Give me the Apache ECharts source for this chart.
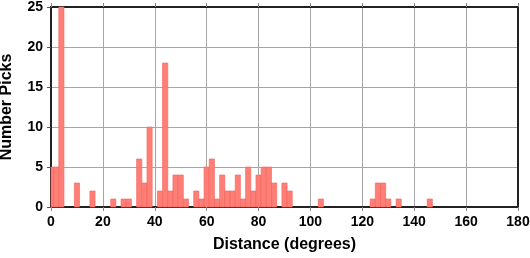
<!DOCTYPE html>
<html>
<head>
<meta charset="utf-8">
<script src="https://cdn.jsdelivr.net/npm/echarts@6/dist/echarts.min.js"></script>
<style>
  html, body { margin: 0; padding: 0; background: #fff; }
  #chart { width: 530px; height: 258px; }
</style>
</head>
<body>
<div id="chart"></div>
<script>
// Histogram bins (2-degree bins, centred on even degrees)
const binCenters = [0, 2, 4, 10, 16, 24, 28, 30, 34, 36, 38, 42, 44, 46, 48, 50, 52, 56, 58, 60, 62, 64, 66, 68, 70, 72, 74, 76, 78, 80, 82, 84, 86, 90, 92, 104, 124, 126, 128, 130, 134, 146];
const pickCounts = [5, 5, 25, 3, 2, 1, 1, 1, 6, 3, 10, 2, 18, 2, 4, 4, 1, 2, 1, 5, 6, 1, 4, 2, 2, 4, 1, 5, 2, 4, 5, 5, 3, 3, 2, 1, 1, 3, 3, 1, 1, 1];
const binWidth = 2;
const xTicks = [0, 20, 40, 60, 80, 100, 120, 140, 160, 180];
const yTicks = [0, 5, 10, 15, 20, 25];
const xTitle = 'Distance (degrees)';
const yTitle = 'Number Picks';

const seriesData = binCenters.map((c, i) => [c, pickCounts[i]]);

const chart = echarts.init(document.getElementById('chart'), null, { renderer: 'canvas' });
const font = 'Liberation Sans, Arial, Helvetica, sans-serif';

chart.setOption({
  animation: false,
  backgroundColor: '#ffffff',
  grid: { left: 51, top: 7, width: 467, height: 200, containLabel: false, outerBoundsMode: 'none' },
  xAxis: [{
    type: 'value', position: 'bottom',
    min: xTicks[0], max: xTicks[xTicks.length - 1], interval: 20,
    name: xTitle, nameLocation: 'middle', nameGap: 30,
    nameTextStyle: { fontFamily: font, fontWeight: 'bold', fontSize: 16, color: '#000' },
    axisLine: { show: true, lineStyle: { color: '#222', width: 2 } },
    axisTick: { show: true, length: 4, inside: false, lineStyle: { color: '#888', width: 1 } },
    axisLabel: { fontFamily: font, fontWeight: 'bold', fontSize: 14, color: '#000', margin: 8 },
    splitLine: { show: true, lineStyle: { color: '#a6a6a6', width: 1 } }
  }, {
    type: 'value', position: 'top',
    min: xTicks[0], max: xTicks[xTicks.length - 1], interval: 20,
    axisLine: { show: true, onZero: false, lineStyle: { color: '#222', width: 2 } },
    axisTick: { show: true, length: 4, lineStyle: { color: '#888', width: 1 } },
    axisLabel: { show: false },
    splitLine: { show: false }
  }],
  yAxis: [{
    type: 'value', position: 'left',
    min: yTicks[0], max: yTicks[yTicks.length - 1], interval: 5,
    name: yTitle, nameLocation: 'middle', nameGap: 36, nameRotate: 90,
    nameTextStyle: { fontFamily: font, fontWeight: 'bold', fontSize: 16, color: '#000' },
    axisLine: { show: true, lineStyle: { color: '#222', width: 2 } },
    axisTick: { show: true, length: 4, lineStyle: { color: '#555', width: 1 } },
    axisLabel: { fontFamily: font, fontWeight: 'bold', fontSize: 14, color: '#000', margin: 8 },
    splitLine: { show: true, lineStyle: { color: '#a6a6a6', width: 1 } }
  }, {
    type: 'value', position: 'right',
    min: yTicks[0], max: yTicks[yTicks.length - 1], interval: 5,
    axisLine: { show: true, onZero: false, lineStyle: { color: '#222', width: 2 } },
    axisTick: { show: false },
    axisLabel: { show: false },
    splitLine: { show: false }
  }],
  series: [{
    type: 'custom',
    xAxisIndex: 0, yAxisIndex: 0,
    z: 1,
    data: seriesData,
    renderItem: function (params, api) {
      const x = api.value(0), y = api.value(1);
      const p0 = api.coord([x - binWidth / 2, 0]);
      const p1 = api.coord([x + binWidth / 2, y]);
      const cs = params.coordSys;
      const rect = echarts.graphic.clipRectByRect(
        { x: p0[0], y: p1[1], width: p1[0] - p0[0], height: p0[1] - p1[1] },
        { x: cs.x, y: cs.y, width: cs.width, height: cs.height }
      );
      if (!rect) return;
      return {
        type: 'rect',
        shape: rect,
        style: { fill: '#ff7f76', stroke: '#f2625a', lineWidth: 0.6 }
      };
    }
  }]
});
</script>
</body>
</html>
